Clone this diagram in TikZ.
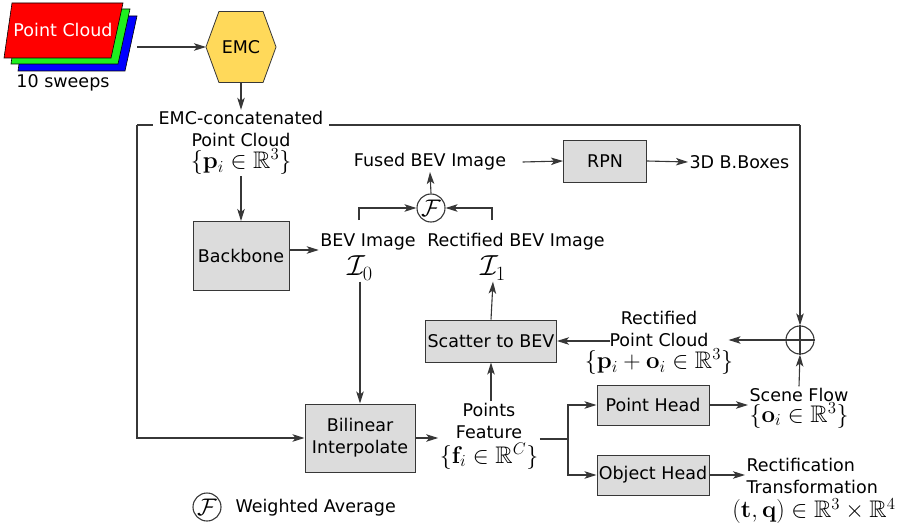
\RequirePackage{fix-cm}
\documentclass[tikz,border=0pt]{standalone}
\usepackage[no-math]{fontspec}
\usepackage{amsmath,amssymb}
\setmainfont{DejaVu Sans}
\usetikzlibrary{arrows.meta,calc,backgrounds}
\definecolor{boxgray}{RGB}{220,220,220}
\definecolor{linec}{RGB}{55,55,55}
\definecolor{emcyel}{RGB}{255,217,90}
\definecolor{pcgreen}{RGB}{30,240,30}
\newcommand\mth[1]{{\fontsize{24}{22}\selectfont$#1$}}
\newcommand\mthL[1]{{\fontsize{29}{22}\selectfont$#1$}}
\begin{document}
\begin{tikzpicture}[x=1pt,y=-1pt,
  font=\fontsize{17.5}{22}\selectfont,
  >={Stealth[length=12pt,width=7.5pt,inset=3pt]}, line width=1.1pt,
  box/.style={draw=linec, fill=boxgray, align=center, inner sep=0pt, line width=1pt},
  txt/.style={align=center, inner sep=1pt},
  arr/.style={->, draw=linec},
  ln/.style={draw=linec},
  opcirc/.style={circle, draw=linec, inner sep=0pt, minimum size=28pt}]
\useasboundingbox (0,0) rectangle (897,527);

% point cloud stack
\draw[fill=blue, line width=0.6pt] (26,16) -- (137,16) -- (125,71) -- (18,71) -- cycle;
\draw[fill=pcgreen, line width=0.6pt] (19,9) -- (130,9) -- (118,64) -- (11,64) -- cycle;
\draw[fill=red, line width=0.6pt] (12,3) -- (123,3) -- (111,58) -- (4,58) -- cycle;
\node[txt, text=white] (ptc) at (63,30) {Point Cloud};
\node[txt] (sweeps) at (63,83) {10 sweeps};
\coordinate (pcout) at (137,47);

% EMC hexagon
\node[inner sep=0pt, minimum width=69pt, minimum height=70pt] (emc) at (241,47) {EMC};
\begin{scope}[on background layer]
\draw[draw=linec, fill=emcyel, line width=0.8pt] (emc.west) -- ($(emc.north west)+(13,0)$) -- ($(emc.north east)+(-13,0)$) -- (emc.east) -- ($(emc.south east)+(-13,0)$) -- ($(emc.south west)+(13,0)$) -- cycle;
\end{scope}
\draw[arr] (pcout) -- (emc.west);

% big feedback frame
\coordinate (tl) at (137,125);
\coordinate (tr) at (800,125);
\draw[ln] (tl) -- (tr);

\node[txt, fill=white, inner xsep=6pt] (pc) at (241,143) {EMC-concatenated\\Point Cloud\\\mth{\{\mathbf{p}_i\in\mathbb{R}^3\}}};
\draw[arr] (emc.south) -- (pc.north);

\node[box, minimum width=96pt, minimum height=69pt] (bb) at (241,256) {Backbone};
\draw[arr] (pc.south) -- (bb.north);

\node[txt] (bevt) at (368,242) {BEV Image};
\node[txt] (i0) at (360,268) {\mthL{\mathcal{I}_0}};
\node[txt] (rbevt) at (516,242) {Rectified BEV Image};
\node[txt] (i1) at (493,268) {\mthL{\mathcal{I}_1}};
\draw[arr] ([yshift=6pt]bb.east) -- ([yshift=6pt]bb.east -| bevt.west);

\node[opcirc] (fu) at (431,208) {\mth{\mathcal{F}}};
\coordinate (bevup) at (359,220);
\coordinate (rbevup) at (492,220);
\draw[arr] (bevup) |- (fu.west);
\draw[arr] (rbevup) |- (fu.east);

\node[txt] (fused) at (430,162) {Fused BEV Image};
\draw[arr] (fu.north) -- (fused.south);

\node[box, minimum width=83pt, minimum height=42pt] (rpn) at (605,161) {RPN};
\draw[arr] ([xshift=15pt]fused.east) -- (rpn.west);
\node[txt, anchor=west] (boxes) at (688,162) {3D B.Boxes};
\draw[arr] (rpn.east) -- (boxes.west);

\node[box, minimum width=110pt, minimum height=68pt] (bil) at (360,438) {Bilinear\\Interpolate};
\draw[arr] (i0.south) -- (bil.north);
\draw[arr] (tl) |- (bil.west);

\node[txt] (pf) at (489,436) {Points\\Feature\\[3pt]\mth{\{\mathbf{f}_i\in\mathbb{R}^C\}}};
\draw[arr] (bil.east) -- (bil.east -| pf.west);

\node[box, minimum width=131pt, minimum height=42pt] (sc) at (491,341) {Scatter to BEV};
\draw[arr] (sc.south |- pf.north) -- (sc.south);
\draw[arr] (sc.north) -- (i1.south);

\node[box, minimum width=112pt, minimum height=40pt] (ph) at (653,405) {Point Head};
\node[box, minimum width=112pt, minimum height=40pt] (oh) at (653,475) {Object Head};
\coordinate (br) at (568,439);
\draw[ln] (br -| pf.east) -- (br);
\draw[arr] (br) |- (ph.west);
\draw[arr] (br) |- (oh.west);

\node[txt, font=\fontsize{17.5}{21}\selectfont] (sf) at (799,408) {Scene Flow\\\mth{\{\mathbf{o}_i\in\mathbb{R}^3\}}};
\draw[arr] (ph.east) -- (ph.east -| sf.west);

\node[opcirc] (op) at (800,340) {};
\draw[ln] (op.north) -- (op.south) (op.west) -- (op.east);
\draw[arr] (sf.north) -- (op.south);
\draw[arr] (tr) -- (op.north);

\node[txt] (rpc) at (659,343) {Rectified\\Point Cloud\\\mth{\{\mathbf{p}_i+\mathbf{o}_i\in\mathbb{R}^3\}}};
\draw[arr] (op.west) -- ([xshift=-6pt]rpc.east |- op.west);
\draw[arr] ([xshift=27pt]rpc.west |- sc.east) -- (sc.east);

\node[txt, anchor=west, align=left] (rt) at (745,476) {Rectification\\Transformation};
\node[txt] (tq) at (814,511) {\mth{(\mathbf{t},\mathbf{q})\in\mathbb{R}^3\times\mathbb{R}^4}};
\draw[arr] (oh.east) -- (oh.east -| rt.west);

% legend
\node[opcirc] (lg) at (207,507) {\mth{\mathcal{F}}};
\node[txt, anchor=west] (lgt) at (234,508) {Weighted Average};
\end{tikzpicture}
\end{document}
